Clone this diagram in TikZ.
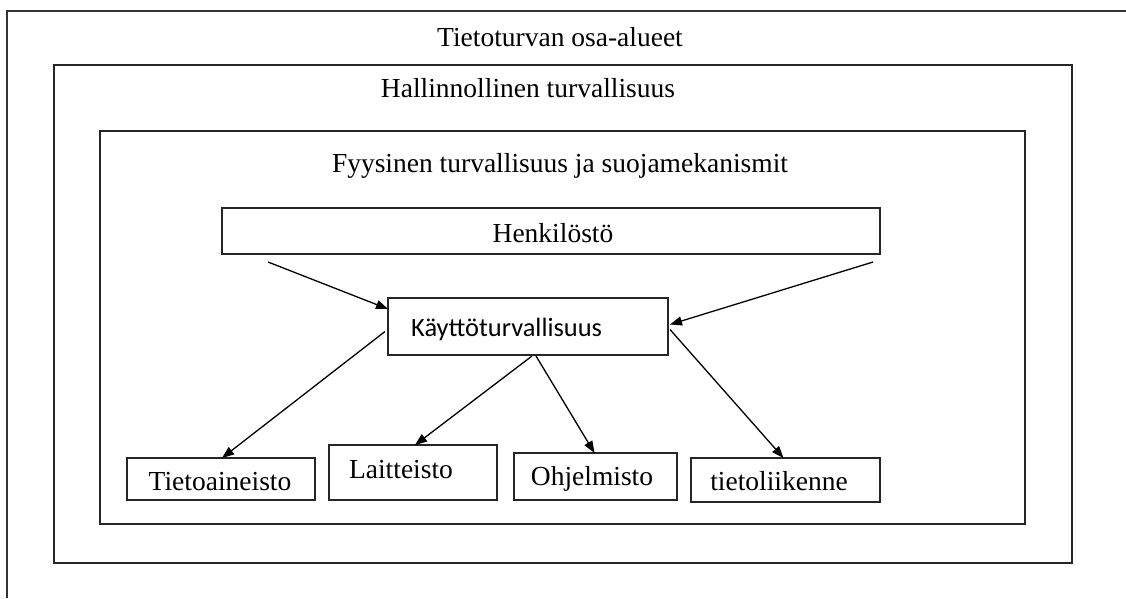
\documentclass[tikz,border=0pt]{standalone}
\usepackage{fontspec}
\setmainfont{Liberation Serif}
\newfontfamily\calfont{Carlito}
\usetikzlibrary{arrows.meta,calc}
\tikzset{
  frame/.style={draw=black!80, line width=1.5pt},
  boxnode/.style={draw=black!85, line width=1.4pt, inner sep=0pt, outer sep=0pt, anchor=north west},
  lbl/.style={inner sep=0pt, anchor=base, font=\fontsize{27.5}{30}\selectfont},
  conn/.style={line width=1.3pt, -{Triangle[length=12pt,width=9pt]}},
}
\begin{document}
\begin{tikzpicture}[x=1pt,y=-1pt]
\useasboundingbox[fill=white] (0,0) rectangle (1126,598);
% outer frame (cropped)
\coordinate (oTL) at (7,11);
\coordinate (oTR) at (1126,11);
\coordinate (oBL) at (7,598);
\draw[frame] (oTR) -- (oTL) -- (oBL);
\node[lbl] (t1) at (560,46) {Tietoturvan osa-alueet};
% middle box
\node[boxnode, minimum width=1018, minimum height=498] (mid) at (54,65) {};
\node[lbl] (t2) at (528,97) {Hallinnollinen turvallisuus};
% inner box
\node[boxnode, minimum width=925, minimum height=393] (inn) at (100,131) {};
\node[lbl] (t3) at (560,172) {Fyysinen turvallisuus ja suojamekanismit};
% Henkilosto
\node[boxnode, minimum width=658, minimum height=46] (henk) at (222,208) {};
\node[lbl] (henkt) at (553,242) {Henkilöstö};
% Kayttoturvallisuus
\node[boxnode, minimum width=280, minimum height=57] (kay) at (388,298) {};
\node[inner sep=0pt, anchor=base west, font=\calfont\fontsize{26.4}{30}\selectfont] (kayt) at (411,336) {Käyttöturvallisuus};
% bottom boxes
\node[boxnode, minimum width=188, minimum height=42] (ta) at (127,458) {};
\node[lbl] (tat) at (220,490) {Tietoaineisto};
\node[boxnode, minimum width=168, minimum height=55] (la) at (329,445) {};
\node[lbl] (lat) at (401,478) {Laitteisto};
\node[boxnode, minimum width=163, minimum height=47] (oh) at (514,453) {};
\node[lbl] (oht) at (592,485) {Ohjelmisto};
\node[boxnode, minimum width=189, minimum height=44] (tl) at (691,458) {};
\node[lbl] (tlt) at (779,490) {tietoliikenne};
% connectors
\coordinate (a1s) at ($(henk.south west)+(46,8)$);
\coordinate (a2s) at ($(henk.south east)+(-7,8)$);
\draw[conn] (a1s) -- ($(kay.north west)+(0,11)$);
\draw[conn] (a2s) -- ($(kay.east)+(2,-2)$);
\draw[conn] ($(kay.west)+(-3,5)$) -- ($(ta.north)+(1,0)$);
\draw[conn] ($(kay.south)+(4,1)$) -- ($(la.north)+(2,0)$);
\draw[conn] ($(kay.south)+(8,1)$) -- ($(oh.north)+(-1,0)$);
\draw[conn] ($(kay.east)+(2,3)$) -- ($(tl.north)+(-2,0)$);
\end{tikzpicture}
\end{document}
